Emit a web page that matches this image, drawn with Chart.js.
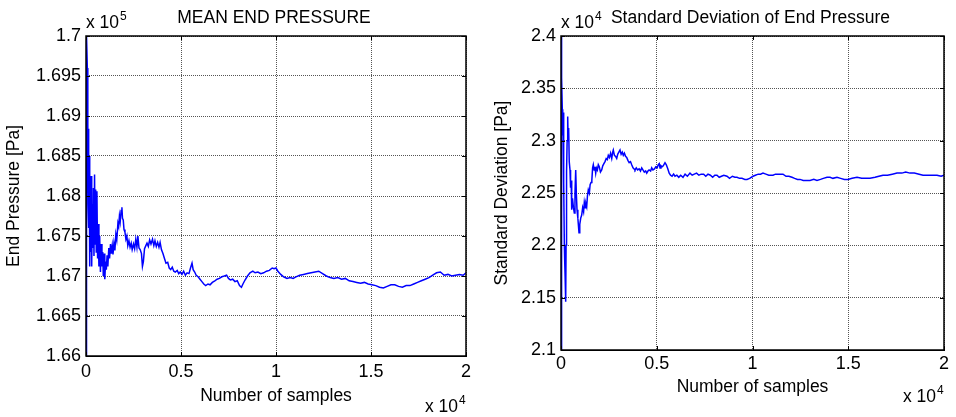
<!DOCTYPE html>
<html>
<head>
<meta charset="utf-8">
<script src="https://cdn.jsdelivr.net/npm/chart.js@4.4.1/dist/chart.umd.min.js"></script>
<style>
  body { margin: 0; background: #fff; }
  canvas { position: absolute; top: 0; }
  #meanChart { left: 0; }
  #stdChart { left: 478px; }
</style>
</head>
<body>
<canvas id="meanChart" width="478" height="417"></canvas>
<canvas id="stdChart" width="478" height="417"></canvas>
<script>
// datos: [muestra, valor]
// media en unidades de 1e5 Pa
const meanPoints = [
  [1, 1.650], [15, 1.712], [40, 1.700], [70, 1.696], [95, 1.6885], [110, 1.6790],
  [130, 1.6884], [150, 1.6760], [170, 1.6850], [195, 1.6712], [220, 1.6822], [245, 1.6730],
  [270, 1.6825], [300, 1.6712], [330, 1.6790], [360, 1.6735], [390, 1.6810], [420, 1.6725],
  [450, 1.6827], [480, 1.6740], [510, 1.6808], [540, 1.6730], [575, 1.6806], [610, 1.6722],
  [640, 1.6765], [680, 1.6712], [720, 1.6750], [760, 1.6705], [800, 1.6740], [840, 1.6712],
  [880, 1.6730], [910, 1.6700], [950, 1.6728], [990, 1.6696], [1030, 1.6718], [1070, 1.6708],
  [1110, 1.6726], [1150, 1.6712], [1200, 1.6735], [1240, 1.6722], [1290, 1.6740], [1330, 1.6728],
  [1380, 1.6738], [1420, 1.6727], [1470, 1.6741], [1520, 1.6732], [1570, 1.6752], [1620, 1.6745],
  [1680, 1.6766], [1720, 1.6762], [1760, 1.6775], [1800, 1.6768], [1850, 1.6782], [1890, 1.6786],
  [1920, 1.6772], [1960, 1.6770], [2000, 1.6758], [2050, 1.6755], [2100, 1.6746], [2150, 1.6750],
  [2200, 1.6738], [2260, 1.6744], [2320, 1.6736], [2380, 1.6741], [2430, 1.6733], [2500, 1.6740],
  [2560, 1.6734], [2620, 1.6746], [2680, 1.6736], [2730, 1.6750], [2790, 1.6735], [2850, 1.6733],
  [2920, 1.6728], [2970, 1.6712], [3020, 1.6718], [3080, 1.6734], [3150, 1.6738], [3210, 1.6741],
  [3280, 1.6737], [3350, 1.6745], [3420, 1.6740], [3500, 1.6746], [3570, 1.6738], [3630, 1.6744],
  [3700, 1.6737], [3770, 1.6742], [3840, 1.6736], [3900, 1.6742], [3970, 1.6733], [4050, 1.6728],
  [4130, 1.6722], [4210, 1.6716], [4300, 1.6717], [4380, 1.6710], [4460, 1.6708], [4540, 1.6711],
  [4620, 1.6706], [4700, 1.6705], [4800, 1.6707], [4880, 1.6703], [4960, 1.6705], [5050, 1.6702],
  [5140, 1.6706], [5230, 1.6701], [5320, 1.6704], [5420, 1.6703], [5500, 1.6710], [5580, 1.6716],
  [5640, 1.6708], [5720, 1.6705], [5800, 1.6701], [5900, 1.6699], [6000, 1.6696], [6100, 1.6693],
  [6200, 1.6690], [6300, 1.6688], [6420, 1.6690], [6530, 1.6689], [6650, 1.6692], [6780, 1.6694],
  [6900, 1.6696], [7020, 1.6697], [7150, 1.6699], [7280, 1.6700], [7400, 1.6701], [7500, 1.6697],
  [7600, 1.6695], [7720, 1.6696], [7840, 1.6693], [7960, 1.6694], [8080, 1.6688], [8180, 1.6686],
  [8260, 1.6690], [8370, 1.6695], [8500, 1.6700], [8630, 1.6704], [8780, 1.6706], [8900, 1.6704],
  [9050, 1.6705], [9200, 1.6703], [9350, 1.6704], [9500, 1.6706], [9650, 1.6707], [9800, 1.6710],
  [9900, 1.6709], [10000, 1.6710], [10100, 1.6706], [10250, 1.6702], [10400, 1.6699], [10580, 1.6697],
  [10750, 1.6698], [10900, 1.6697], [11050, 1.6699], [11250, 1.6701], [11450, 1.6702], [11650, 1.6703],
  [11850, 1.6704], [12050, 1.6705], [12250, 1.6706], [12450, 1.6703], [12650, 1.6700], [12850, 1.6698],
  [13050, 1.6697], [13250, 1.6698], [13450, 1.6696], [13650, 1.6697], [13850, 1.6694], [14050, 1.6693],
  [14250, 1.6692], [14450, 1.6691], [14650, 1.6692], [14850, 1.6690], [15050, 1.6689], [15250, 1.6688],
  [15450, 1.6686], [15650, 1.6685], [15850, 1.6687], [16050, 1.6689], [16250, 1.6689], [16450, 1.6687],
  [16650, 1.6686], [16850, 1.6688], [17050, 1.6688], [17250, 1.6690], [17450, 1.6692], [17650, 1.6694],
  [17850, 1.6696], [18050, 1.6698], [18250, 1.6701], [18450, 1.6704], [18650, 1.6705], [18850, 1.6701],
  [19050, 1.6702], [19250, 1.6700], [19450, 1.6701], [19650, 1.6702], [19850, 1.6701], [20000, 1.6704]
];

// desviacion estandar en unidades de 1e4 Pa
const stdPoints = [
  [1, 2.05], [12, 2.45], [30, 2.40], [50, 2.36], [68, 2.33], [90, 2.305], [110, 2.327],
  [130, 2.30], [150, 2.26], [175, 2.20], [193, 2.185], [215, 2.17], [245, 2.146], [265, 2.20],
  [290, 2.27], [320, 2.30], [350, 2.323], [375, 2.30], [400, 2.312], [430, 2.28], [470, 2.272],
  [500, 2.255], [530, 2.262], [559, 2.234], [600, 2.245], [650, 2.236], [695, 2.231], [730, 2.25],
  [768, 2.272], [800, 2.25], [836, 2.234], [880, 2.226], [940, 2.212], [980, 2.22], [1030, 2.226],
  [1081, 2.229], [1130, 2.236], [1180, 2.232], [1217, 2.241], [1260, 2.236], [1300, 2.240], [1342, 2.237],
  [1380, 2.247], [1426, 2.253], [1480, 2.250], [1520, 2.258], [1567, 2.26], [1610, 2.262], [1650, 2.274],
  [1687, 2.277], [1730, 2.272], [1770, 2.275], [1812, 2.269], [1850, 2.274], [1900, 2.272], [1948, 2.277],
  [2000, 2.275], [2060, 2.270], [2125, 2.272], [2180, 2.276], [2240, 2.278], [2298, 2.28], [2360, 2.283],
  [2420, 2.282], [2470, 2.286], [2530, 2.284], [2590, 2.288], [2650, 2.283], [2700, 2.289], [2731, 2.291],
  [2790, 2.286], [2850, 2.285], [2909, 2.283], [2960, 2.287], [3020, 2.289], [3081, 2.291], [3140, 2.287],
  [3200, 2.289], [3253, 2.286], [3310, 2.288], [3370, 2.285], [3431, 2.284], [3500, 2.281], [3560, 2.279],
  [3630, 2.280], [3692, 2.277], [3760, 2.274], [3820, 2.273], [3864, 2.272], [3930, 2.274], [4000, 2.272],
  [4080, 2.273], [4150, 2.271], [4214, 2.274], [4280, 2.272], [4350, 2.270], [4420, 2.271], [4475, 2.269],
  [4540, 2.271], [4600, 2.272], [4680, 2.271], [4736, 2.274], [4800, 2.272], [4880, 2.273], [4950, 2.275],
  [5020, 2.274], [5081, 2.277], [5130, 2.278], [5170, 2.274], [5220, 2.276], [5280, 2.275], [5340, 2.276],
  [5431, 2.279], [5500, 2.277], [5580, 2.273], [5650, 2.269], [5720, 2.267], [5800, 2.266], [5880, 2.268],
  [5953, 2.266], [6050, 2.267], [6150, 2.265], [6250, 2.267], [6371, 2.265], [6480, 2.268], [6600, 2.266],
  [6736, 2.269], [6850, 2.267], [6960, 2.268], [7080, 2.269], [7200, 2.267], [7320, 2.268], [7450, 2.268],
  [7560, 2.266], [7676, 2.268], [7800, 2.267], [7920, 2.265], [8030, 2.267], [8146, 2.267], [8260, 2.265],
  [8380, 2.266], [8500, 2.267], [8669, 2.266], [8800, 2.264], [8950, 2.266], [9080, 2.265], [9191, 2.265],
  [9320, 2.264], [9450, 2.264], [9600, 2.263], [9713, 2.263], [9850, 2.264], [10026, 2.266], [10150, 2.267],
  [10300, 2.268], [10420, 2.268], [10548, 2.269], [10700, 2.268], [10850, 2.267], [11070, 2.267], [11200, 2.268],
  [11400, 2.268], [11593, 2.268], [11750, 2.266], [11900, 2.266], [12063, 2.265], [12200, 2.264], [12350, 2.263],
  [12481, 2.263], [12650, 2.262], [12820, 2.262], [13003, 2.262], [13200, 2.263], [13368, 2.262], [13550, 2.263],
  [13700, 2.264], [13890, 2.265], [14050, 2.265], [14200, 2.264], [14412, 2.265], [14600, 2.264], [14800, 2.263],
  [14987, 2.263], [15200, 2.264], [15457, 2.265], [15700, 2.264], [15900, 2.264], [16136, 2.264], [16400, 2.265],
  [16600, 2.266], [16815, 2.267], [17050, 2.267], [17300, 2.268], [17546, 2.269], [17800, 2.269], [18000, 2.27],
  [18225, 2.269], [18450, 2.269], [18700, 2.268], [18904, 2.267], [19150, 2.267], [19400, 2.267], [19635, 2.267],
  [19850, 2.266], [20000, 2.267]
];

const xTicks = [0, 5000, 10000, 15000, 20000];
const meanTicks = [1.66, 1.665, 1.67, 1.675, 1.68, 1.685, 1.69, 1.695, 1.7];
const stdTicks = [2.1, 2.15, 2.2, 2.25, 2.3, 2.35, 2.4];

const familia = '"Liberation Sans", Arial, sans-serif';
const fuente = { family: familia, size: 17.5 };
const fuenteTicks = { family: familia, size: 18 };

// marco, marcas interiores y textos extra (titulo, x 10^n)
const marco = {
  id: 'marco',
  afterDraw(chart, args, opts) {
    const { ctx, chartArea: a, scales: { x, y } } = chart;
    ctx.save();
    ctx.strokeStyle = '#000';
    ctx.lineWidth = 1;
    const linea = (x1, y1, x2, y2) => {
      ctx.beginPath(); ctx.moveTo(x1, y1); ctx.lineTo(x2, y2); ctx.stroke();
    };
    x.ticks.forEach(t => {
      const px = Math.round(x.getPixelForValue(t.value)) + 0.5;
      linea(px, a.bottom, px, a.bottom - 4);
      linea(px, a.top, px, a.top + 4);
    });
    y.ticks.forEach(t => {
      const py = Math.round(y.getPixelForValue(t.value)) + 0.5;
      linea(a.left, py, a.left + 4, py);
      linea(a.right, py, a.right - 4, py);
    });
    ctx.lineWidth = 1.5;
    ctx.strokeRect(a.left, a.top, a.right - a.left, a.bottom - a.top);

    ctx.fillStyle = '#000';
    ctx.textBaseline = 'alphabetic';
    ctx.font = '17.5px ' + familia;
    ctx.textAlign = 'center';
    ctx.fillText(opts.titulo, (a.left + a.right) / 2 - 2, 23);

    const potencia = (exp, x0, base) => {
      ctx.textAlign = 'left';
      ctx.font = '17.5px ' + familia;
      ctx.fillText('x 10', x0, base);
      const w = ctx.measureText('x 10').width;
      ctx.font = '12px ' + familia;
      ctx.fillText(exp, x0 + w + 1, base - 8);
    };
    potencia(opts.expY, a.left, 28);
    potencia('4', a.right - 41, opts.baseX);
    ctx.restore();
  }
};

const crearGrafico = (canvasId, puntos, yMin, yMax, yTicks, cfg) => {
  new Chart(document.getElementById(canvasId), {
    type: 'line',
    data: {
      datasets: [{
        data: puntos.map(([m, v]) => ({ x: m, y: v })),
        borderColor: '#0000ff',
        borderWidth: 1.5,
        pointRadius: 0,
        fill: false,
        tension: 0
      }]
    },
    options: {
      responsive: false,
      animation: false,
      layout: { padding: { top: 36, right: 12, left: 0, bottom: 0 } },
      plugins: {
        legend: { display: false },
        tooltip: { enabled: false },
        marco: { titulo: cfg.titulo, expY: cfg.expY, baseX: cfg.baseX }
      },
      scales: {
        x: {
          type: 'linear',
          min: 0,
          max: 20000,
          afterBuildTicks: s => { s.ticks = xTicks.map(v => ({ value: v })); },
          afterFit: s => { s.height = cfg.altoX; },
          ticks: {
            callback: v => String(v / 1e4),
            padding: cfg.padTickX,
            font: fuenteTicks,
            color: '#000',
            maxRotation: 0,
            autoSkip: false
          },
          grid: { color: '#555', drawTicks: false },
          border: { color: '#000', dash: [1, 1] },
          title: {
            display: true,
            text: 'Number of samples',
            font: fuente,
            color: '#000',
            padding: { top: 0, bottom: cfg.padTituloX }
          }
        },
        y: {
          type: 'linear',
          min: yMin,
          max: yMax,
          afterBuildTicks: s => { s.ticks = yTicks.map(v => ({ value: v })); },
          afterFit: s => { s.width = cfg.anchoY; },
          ticks: {
            callback: v => String(+v.toFixed(3)),
            padding: 5,
            font: fuenteTicks,
            color: '#000',
            autoSkip: false
          },
          grid: { color: '#555', drawTicks: false },
          border: { color: '#000', dash: [1, 1] },
          title: {
            display: true,
            text: cfg.tituloY,
            font: fuente,
            color: '#000',
            padding: { top: cfg.padTituloY, bottom: 0 }
          }
        }
      }
    },
    plugins: [marco]
  });
};

crearGrafico('meanChart', meanPoints, 1.66, 1.7, meanTicks, {
  titulo: 'MEAN END PRESSURE',
  tituloY: 'End Pressure [Pa]',
  expY: '5',
  baseX: 412,
  altoX: 61,
  anchoY: 86,
  padTickX: 5,
  padTituloX: 10,
  padTituloY: 4
});

crearGrafico('stdChart', stdPoints, 2.1, 2.4, stdTicks, {
  titulo: 'Standard Deviation of End Pressure',
  tituloY: 'Standard Deviation [Pa]',
  expY: '4',
  baseX: 402,
  altoX: 67,
  anchoY: 83,
  padTickX: 3,
  padTituloX: 19,
  padTituloY: 14
});
</script>
</body>
</html>
